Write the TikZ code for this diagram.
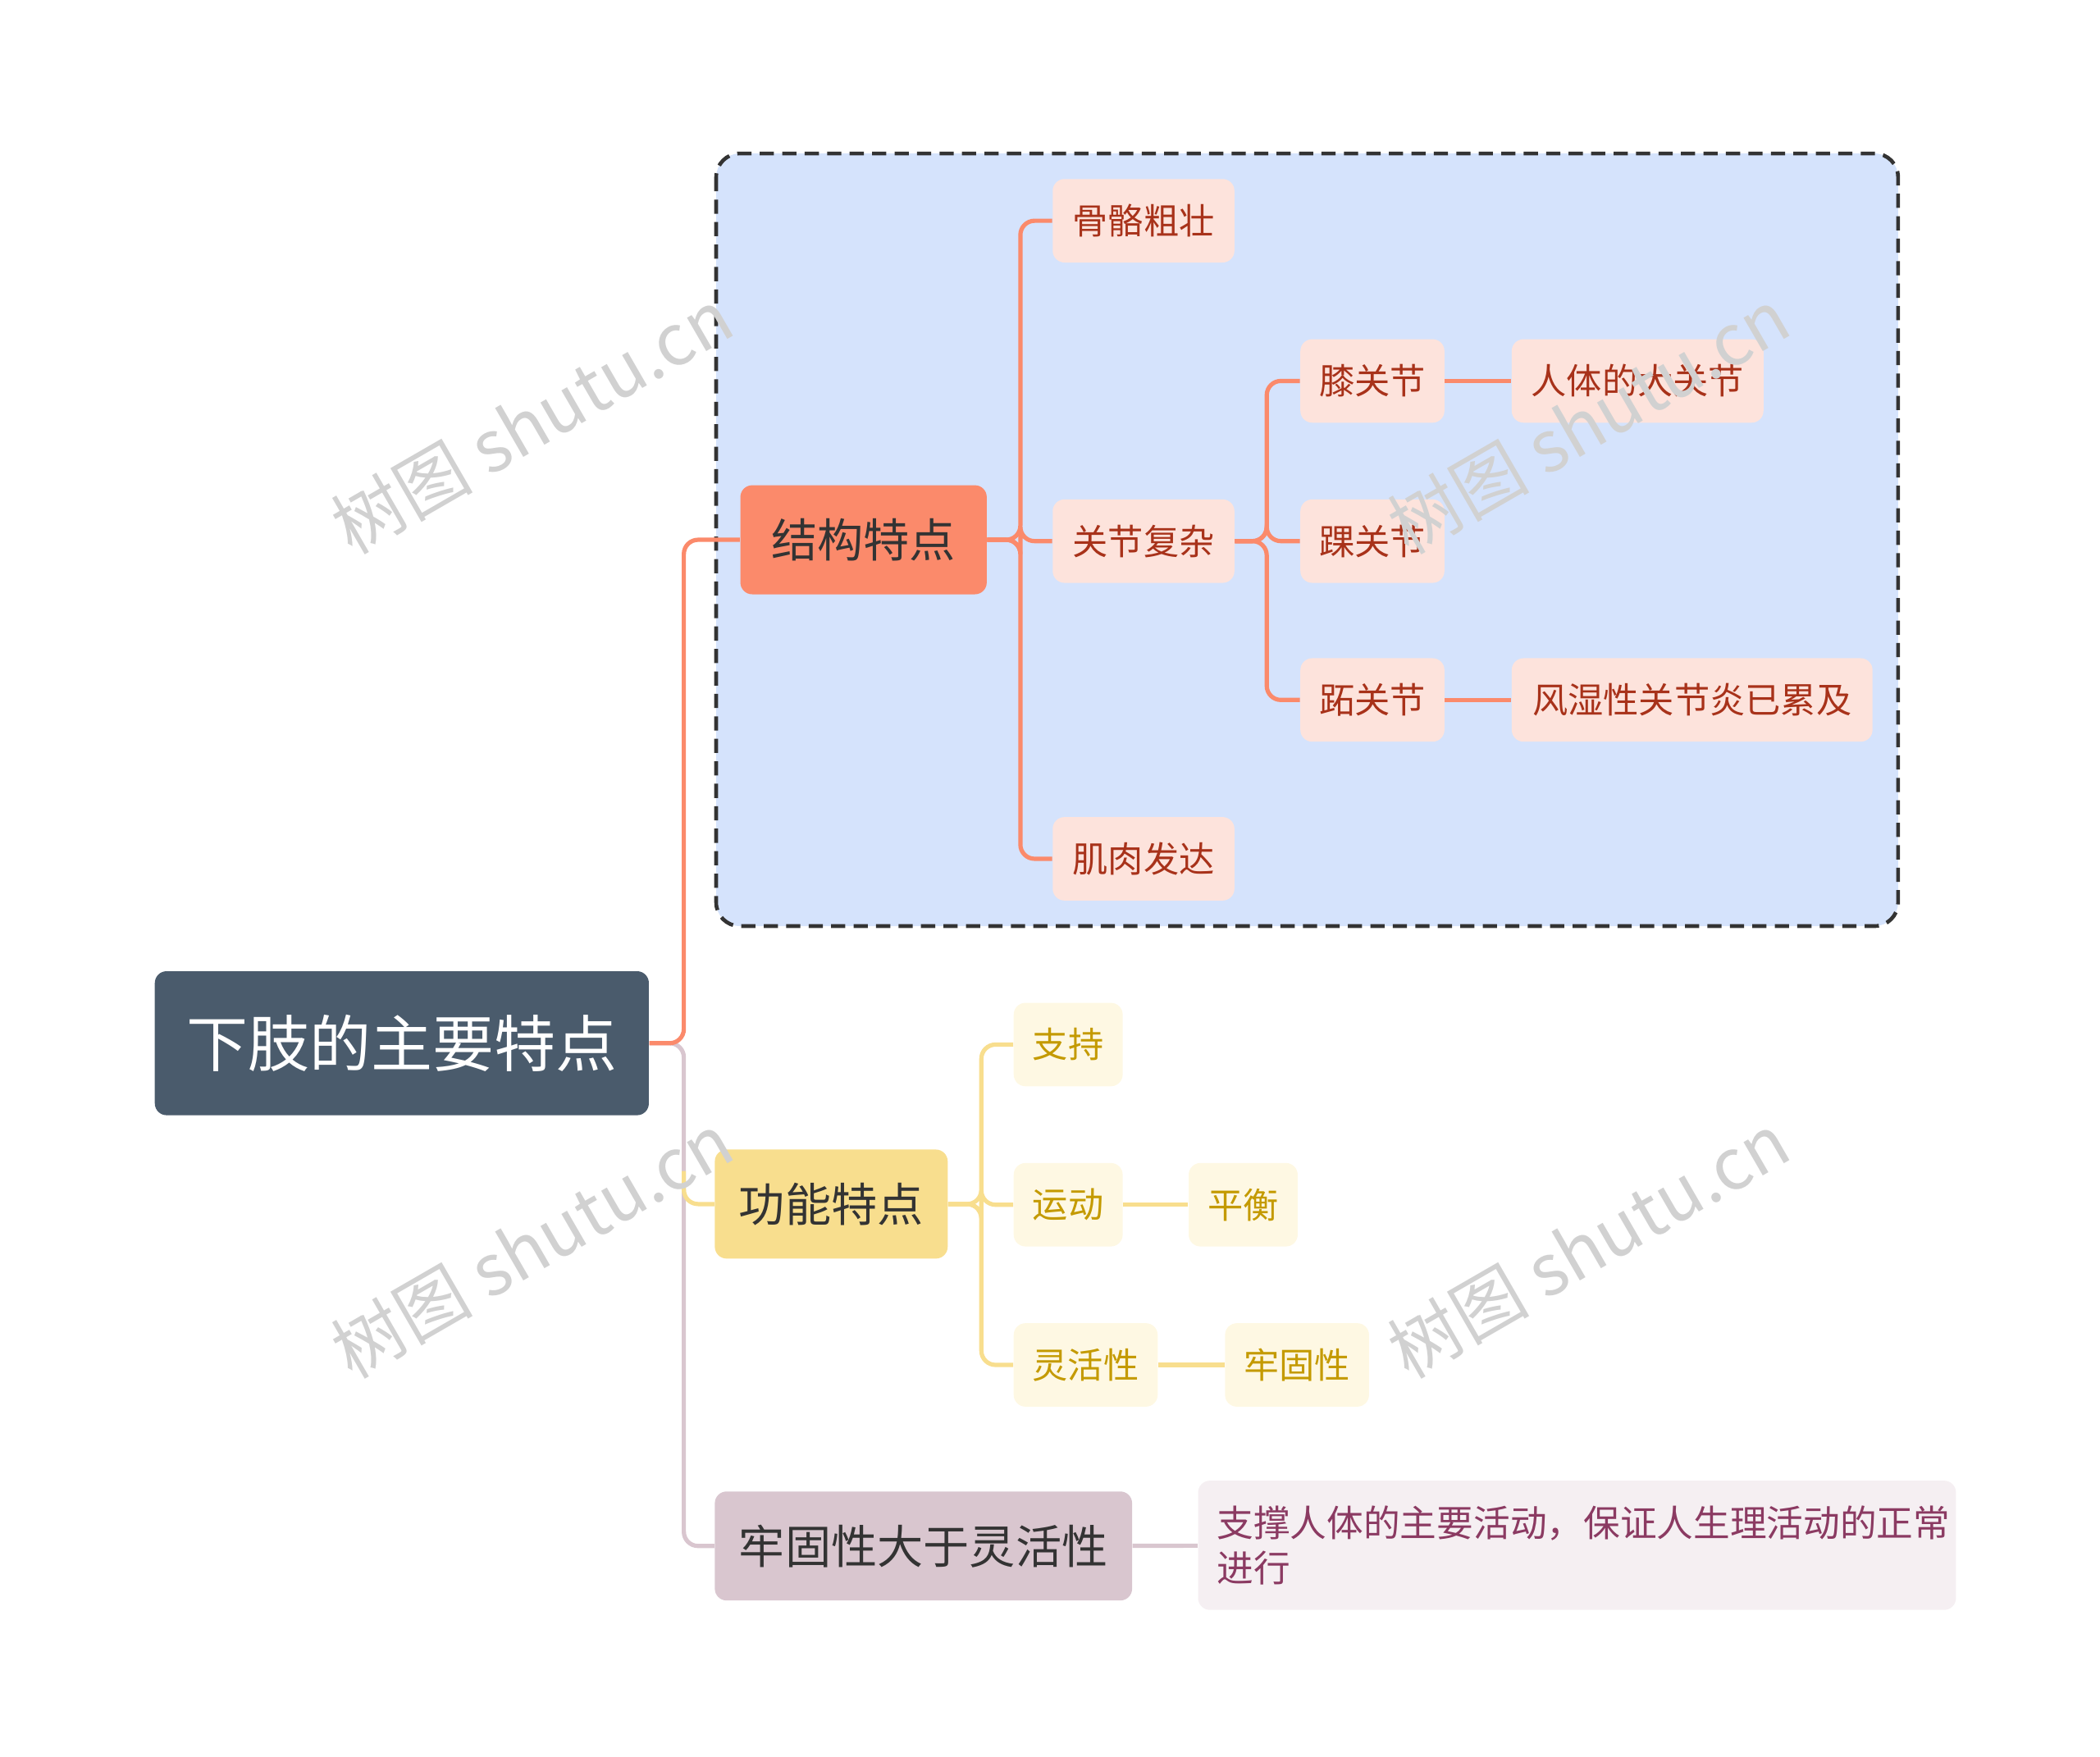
\documentclass[tikz,border=0pt]{standalone}
\usepackage{fontspec}
\setmainfont{Noto Sans CJK SC}
\usetikzlibrary{positioning}
\definecolor{rootc}{HTML}{4A5B6C}
\definecolor{orgc}{HTML}{FB8A6B}
\definecolor{orgl}{HTML}{FDE3DC}
\definecolor{orgt}{HTML}{A8321A}
\definecolor{yelc}{HTML}{F8DE8E}
\definecolor{yell}{HTML}{FEF8E3}
\definecolor{yelt}{HTML}{C49A00}
\definecolor{purc}{HTML}{D9C6CF}
\definecolor{purl}{HTML}{F5EFF2}
\definecolor{purt}{HTML}{8B3A62}
\definecolor{boxc}{HTML}{D5E3FC}
\begin{document}
\begin{tikzpicture}[x=0.02cm,y=-0.02cm]
    % Styles
    \tikzstyle{racine}=[fill=rootc,rounded corners=5pt,text=white,font=\fontsize{26}{30}\selectfont,minimum width=367*0.02cm,minimum height=107*0.02cm]
    \tikzstyle{branche}=[rounded corners=5pt,text=black!80,font=\fontsize{19.5}{23}\selectfont,minimum height=81*0.02cm]
    \tikzstyle{feuilleO}=[fill=orgl,rounded corners=5pt,text=orgt,font=\fontsize{15}{18}\selectfont,minimum height=62*0.02cm]
    \tikzstyle{feuilleY}=[fill=yell,rounded corners=5pt,text=yelt,font=\fontsize{15}{18}\selectfont,minimum height=62*0.02cm]
    \tikzstyle{lien}=[line width=1.8pt,rounded corners=6pt]
    \tikzstyle{filigrane}=[text=black!18,rotate=30,font=\fontsize{30}{34}\selectfont]
    % Cadre
    \useasboundingbox (0,0) rectangle (1560,1305);
    \draw[fill=boxc,draw=black!80,dash pattern=on 6pt off 3.5pt,line width=1.6pt,rounded corners=10pt] (532,114) rectangle (1410,688);
    % Noeuds
    \node[racine] (R) at (298.5,775) {下肢的主要特点};
    \node[branche,fill=orgc,minimum width=183*0.02cm] (Ra) at (641.5,401) {结构特点};
    \node[branche,fill=yelc,minimum width=173*0.02cm] (Rb) at (617.5,894.5) {功能特点};
    \node[branche,fill=purc,minimum width=310*0.02cm] (Rc) at (686,1148.5) {牢固性大于灵活性};
    \node[feuilleO,minimum width=135*0.02cm] (Raa) at (849.5,164) {骨骼粗壮};
    \node[feuilleO,minimum width=135*0.02cm] (Rab) at (849.5,402) {关节复杂};
    \node[feuilleO,minimum width=135*0.02cm] (Rac) at (849.5,638) {肌肉发达};
    \node[feuilleO,minimum width=107*0.02cm] (Raba) at (1019.5,283) {膝关节};
    \node[feuilleO,minimum width=107*0.02cm] (Rabb) at (1019.5,402) {踝关节};
    \node[feuilleO,minimum width=107*0.02cm] (Rabc) at (1019.5,520) {跖关节};
    \node[feuilleO,minimum width=187*0.02cm] (Rabaa) at (1216.5,283) {人体的大关节};
    \node[feuilleO,minimum width=268*0.02cm] (Rabca) at (1257,520) {风湿性关节炎已累及};
    \node[feuilleY,minimum width=81*0.02cm] (Rba) at (793.5,776) {支持};
    \node[feuilleY,minimum width=81*0.02cm] (Rbb) at (793.5,895) {运动};
    \node[feuilleY,minimum width=81*0.02cm] (Rbba) at (923.5,895) {平衡};
    \node[feuilleY,minimum width=107*0.02cm] (Rbc) at (806.5,1014) {灵活性};
    \node[feuilleY,minimum width=107*0.02cm] (Rbca) at (963.5,1014) {牢固性};
    \node[fill=purl,rounded corners=5pt,text=purt,align=left,font=\fontsize{15.5}{19}\selectfont,minimum width=563*0.02cm,minimum height=96*0.02cm,text width=535*0.02cm] (Rca) at (1171.5,1148) {支撑人体的主要活动，保证人生理活动的正常\\进行};
    % Liens
    \draw[lien,purc] (R.east) -- (508,775) |- (Rc.west);
    \draw[lien,yelc] (508,870) |- (Rb.west);
    \draw[lien,orgc] (R.east) -- (508,775) |- (Ra.west);
    \foreach \n in {Raa,Rab,Rac} \draw[lien,orgc] (Ra.east) -- (758,401) |- (\n.west);
    \foreach \n in {Raba,Rabb,Rabc} \draw[lien,orgc] (Rab.east) -- (941,402) |- (\n.west);
    \draw[lien,orgc] (Raba) -- (Rabaa);
    \draw[lien,orgc] (Rabc) -- (Rabca);
    \foreach \n in {Rba,Rbb,Rbc} \draw[lien,yelc] (Rb.east) -- (729,894.5) |- (\n.west);
    \draw[lien,yelc] (Rbb) -- (Rbba);
    \draw[lien,yelc] (Rbc) -- (Rbca);
    \draw[lien,purc] (Rc) -- (Rca);
    % Filigranes
    \node[filigrane] (W1) at (395,313) {树图 shutu.cn};
    \node[filigrane] (W2) at (1180,313) {树图 shutu.cn};
    \node[filigrane] (W3) at (395,925) {树图 shutu.cn};
    \node[filigrane] (W4) at (1180,925) {树图 shutu.cn};
\end{tikzpicture}
\end{document}
